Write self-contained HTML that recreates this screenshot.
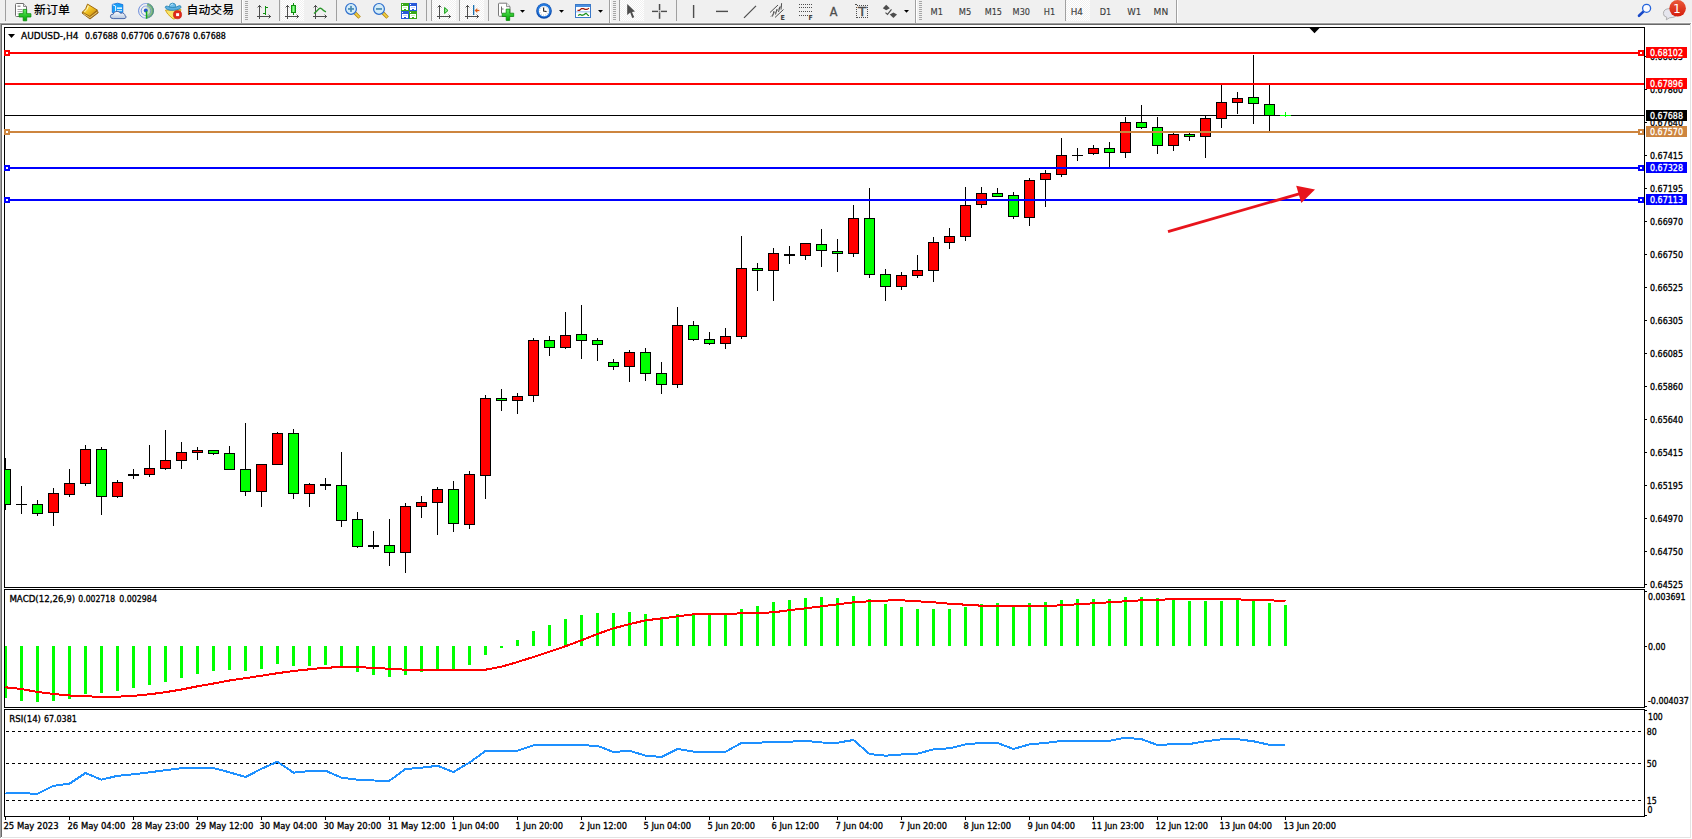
<!DOCTYPE html>
<html lang="zh-CN"><head><meta charset="utf-8"><title>AUDUSD-,H4</title>
<style>html,body{margin:0;padding:0;background:#fff;overflow:hidden}body{width:1692px;height:839px}svg text{white-space:pre}</style></head>
<body>
<svg width="1692" height="839" viewBox="0 0 1692 839" font-family="'DejaVu Sans Condensed','Liberation Sans',sans-serif" style="display:block">
<defs>
<pattern id="chk" width="2" height="2" patternUnits="userSpaceOnUse"><rect width="2" height="2" fill="#ffffff"/><rect width="1" height="1" fill="#f0f0f0"/><rect x="1" y="1" width="1" height="1" fill="#f0f0f0"/></pattern>
<clipPath id="mainclip"><rect x="5" y="28" width="1639" height="559"/></clipPath>
<linearGradient id="gplus" x1="0" y1="0" x2="0" y2="1"><stop offset="0" stop-color="#60f060"/><stop offset="1" stop-color="#00a000"/></linearGradient>
<linearGradient id="gbook" x1="0" y1="0" x2="1" y2="1"><stop offset="0" stop-color="#fff080"/><stop offset="0.5" stop-color="#f0c020"/><stop offset="1" stop-color="#c08010"/></linearGradient>
<linearGradient id="gcloud" x1="0" y1="0" x2="0" y2="1"><stop offset="0" stop-color="#ffffff"/><stop offset="1" stop-color="#b8c8e0"/></linearGradient>
<linearGradient id="gbadge" x1="0" y1="0" x2="0" y2="1"><stop offset="0" stop-color="#ea5a3a"/><stop offset="1" stop-color="#d41c0c"/></linearGradient>
<radialGradient id="gclock" cx="0.5" cy="0.4" r="0.6"><stop offset="0.55" stop-color="#ffffff"/><stop offset="0.7" stop-color="#2a8ae8"/><stop offset="1" stop-color="#0848a8"/></radialGradient>
<linearGradient id="gcandle" x1="0" y1="0" x2="1" y2="0"><stop offset="0" stop-color="#30d030"/><stop offset="0.5" stop-color="#90ff90"/><stop offset="1" stop-color="#20c020"/></linearGradient>
</defs>
<rect x="0" y="0" width="1692" height="839" fill="#ffffff" />
<g shape-rendering="crispEdges">
<rect x="0" y="0" width="1692" height="22" fill="#f0f0f0" />
<rect x="0" y="22" width="1691" height="1" fill="#f7f7f7" />
<rect x="0" y="23" width="1691" height="1" fill="#a0a0a0" />
<rect x="1" y="24" width="1690" height="1" fill="#696969" />
<rect x="0" y="23" width="1" height="815" fill="#a0a0a0" />
<rect x="1" y="24" width="1" height="813" fill="#696969" />
<rect x="1690" y="24" width="1" height="814" fill="#e3e3e3" />
<rect x="2" y="837" width="1689" height="1" fill="#e3e3e3" />
<rect x="1691" y="22" width="1" height="817" fill="#ffffff" />
<rect x="4" y="27" width="1641" height="1" fill="#000" />
<rect x="4" y="587" width="1641" height="1" fill="#000" />
<rect x="4" y="27" width="1" height="561" fill="#000" />
<rect x="1644" y="27" width="1" height="561" fill="#000" />
<rect x="4" y="589" width="1641" height="1" fill="#000" />
<rect x="4" y="707" width="1641" height="1" fill="#000" />
<rect x="4" y="589" width="1" height="119" fill="#000" />
<rect x="1644" y="589" width="1" height="119" fill="#000" />
<rect x="4" y="709" width="1641" height="1" fill="#000" />
<rect x="4" y="816" width="1641" height="1" fill="#000" />
<rect x="4" y="709" width="1" height="108" fill="#000" />
<rect x="1644" y="709" width="1" height="108" fill="#000" />
</g>
<rect x="5" y="115" width="1639" height="1" fill="#000" shape-rendering="crispEdges"/>
<g shape-rendering="crispEdges" clip-path="url(#mainclip)">
<rect x="5" y="458" width="1" height="52" fill="#000" />
<rect x="0" y="469" width="11" height="36" fill="#000" />
<rect x="1" y="470" width="9" height="34" fill="#00ff00" />
<rect x="21" y="486" width="1" height="28" fill="#000" />
<rect x="16" y="504" width="11" height="1" fill="#000" />
<rect x="37" y="500" width="1" height="16" fill="#000" />
<rect x="32" y="504" width="11" height="10" fill="#000" />
<rect x="33" y="505" width="9" height="8" fill="#00ff00" />
<rect x="53" y="488" width="1" height="38" fill="#000" />
<rect x="48" y="493" width="11" height="20" fill="#000" />
<rect x="49" y="494" width="9" height="18" fill="#ff0000" />
<rect x="69" y="469" width="1" height="28" fill="#000" />
<rect x="64" y="483" width="11" height="12" fill="#000" />
<rect x="65" y="484" width="9" height="10" fill="#ff0000" />
<rect x="85" y="445" width="1" height="41" fill="#000" />
<rect x="80" y="449" width="11" height="35" fill="#000" />
<rect x="81" y="450" width="9" height="33" fill="#ff0000" />
<rect x="101" y="447" width="1" height="68" fill="#000" />
<rect x="96" y="449" width="11" height="48" fill="#000" />
<rect x="97" y="450" width="9" height="46" fill="#00ff00" />
<rect x="117" y="480" width="1" height="18" fill="#000" />
<rect x="112" y="482" width="11" height="15" fill="#000" />
<rect x="113" y="483" width="9" height="13" fill="#ff0000" />
<rect x="133" y="469" width="1" height="10" fill="#000" />
<rect x="128" y="474" width="11" height="2" fill="#000" />
<rect x="149" y="445" width="1" height="32" fill="#000" />
<rect x="144" y="468" width="11" height="7" fill="#000" />
<rect x="145" y="469" width="9" height="5" fill="#ff0000" />
<rect x="165" y="430" width="1" height="40" fill="#000" />
<rect x="160" y="460" width="11" height="9" fill="#000" />
<rect x="161" y="461" width="9" height="7" fill="#ff0000" />
<rect x="181" y="442" width="1" height="27" fill="#000" />
<rect x="176" y="452" width="11" height="9" fill="#000" />
<rect x="177" y="453" width="9" height="7" fill="#ff0000" />
<rect x="197" y="447" width="1" height="13" fill="#000" />
<rect x="192" y="450" width="11" height="3" fill="#000" />
<rect x="193" y="451" width="9" height="1" fill="#ff0000" />
<rect x="213" y="450" width="1" height="5" fill="#000" />
<rect x="208" y="450" width="11" height="4" fill="#000" />
<rect x="209" y="451" width="9" height="2" fill="#00ff00" />
<rect x="229" y="446" width="1" height="24" fill="#000" />
<rect x="224" y="453" width="11" height="17" fill="#000" />
<rect x="225" y="454" width="9" height="15" fill="#00ff00" />
<rect x="245" y="423" width="1" height="73" fill="#000" />
<rect x="240" y="469" width="11" height="23" fill="#000" />
<rect x="241" y="470" width="9" height="21" fill="#00ff00" />
<rect x="261" y="464" width="1" height="43" fill="#000" />
<rect x="256" y="464" width="11" height="28" fill="#000" />
<rect x="257" y="465" width="9" height="26" fill="#ff0000" />
<rect x="277" y="432" width="1" height="33" fill="#000" />
<rect x="272" y="433" width="11" height="32" fill="#000" />
<rect x="273" y="434" width="9" height="30" fill="#ff0000" />
<rect x="293" y="429" width="1" height="70" fill="#000" />
<rect x="288" y="433" width="11" height="61" fill="#000" />
<rect x="289" y="434" width="9" height="59" fill="#00ff00" />
<rect x="309" y="483" width="1" height="24" fill="#000" />
<rect x="304" y="484" width="11" height="10" fill="#000" />
<rect x="305" y="485" width="9" height="8" fill="#ff0000" />
<rect x="325" y="478" width="1" height="12" fill="#000" />
<rect x="320" y="484" width="11" height="2" fill="#000" />
<rect x="341" y="452" width="1" height="75" fill="#000" />
<rect x="336" y="485" width="11" height="36" fill="#000" />
<rect x="337" y="486" width="9" height="34" fill="#00ff00" />
<rect x="357" y="512" width="1" height="36" fill="#000" />
<rect x="352" y="519" width="11" height="28" fill="#000" />
<rect x="353" y="520" width="9" height="26" fill="#00ff00" />
<rect x="373" y="531" width="1" height="18" fill="#000" />
<rect x="368" y="545" width="11" height="2" fill="#000" />
<rect x="389" y="519" width="1" height="47" fill="#000" />
<rect x="384" y="545" width="11" height="8" fill="#000" />
<rect x="385" y="546" width="9" height="6" fill="#00ff00" />
<rect x="405" y="503" width="1" height="70" fill="#000" />
<rect x="400" y="506" width="11" height="47" fill="#000" />
<rect x="401" y="507" width="9" height="45" fill="#ff0000" />
<rect x="421" y="496" width="1" height="22" fill="#000" />
<rect x="416" y="502" width="11" height="5" fill="#000" />
<rect x="417" y="503" width="9" height="3" fill="#ff0000" />
<rect x="437" y="487" width="1" height="48" fill="#000" />
<rect x="432" y="489" width="11" height="14" fill="#000" />
<rect x="433" y="490" width="9" height="12" fill="#ff0000" />
<rect x="453" y="481" width="1" height="51" fill="#000" />
<rect x="448" y="489" width="11" height="35" fill="#000" />
<rect x="449" y="490" width="9" height="33" fill="#00ff00" />
<rect x="469" y="471" width="1" height="58" fill="#000" />
<rect x="464" y="474" width="11" height="51" fill="#000" />
<rect x="465" y="475" width="9" height="49" fill="#ff0000" />
<rect x="485" y="395" width="1" height="104" fill="#000" />
<rect x="480" y="398" width="11" height="78" fill="#000" />
<rect x="481" y="399" width="9" height="76" fill="#ff0000" />
<rect x="501" y="389" width="1" height="22" fill="#000" />
<rect x="496" y="398" width="11" height="3" fill="#000" />
<rect x="497" y="399" width="9" height="1" fill="#00ff00" />
<rect x="517" y="393" width="1" height="21" fill="#000" />
<rect x="512" y="396" width="11" height="5" fill="#000" />
<rect x="513" y="397" width="9" height="3" fill="#ff0000" />
<rect x="533" y="338" width="1" height="64" fill="#000" />
<rect x="528" y="340" width="11" height="56" fill="#000" />
<rect x="529" y="341" width="9" height="54" fill="#ff0000" />
<rect x="549" y="336" width="1" height="20" fill="#000" />
<rect x="544" y="340" width="11" height="8" fill="#000" />
<rect x="545" y="341" width="9" height="6" fill="#00ff00" />
<rect x="565" y="312" width="1" height="37" fill="#000" />
<rect x="560" y="335" width="11" height="13" fill="#000" />
<rect x="561" y="336" width="9" height="11" fill="#ff0000" />
<rect x="581" y="305" width="1" height="54" fill="#000" />
<rect x="576" y="334" width="11" height="7" fill="#000" />
<rect x="577" y="335" width="9" height="5" fill="#00ff00" />
<rect x="597" y="338" width="1" height="23" fill="#000" />
<rect x="592" y="340" width="11" height="5" fill="#000" />
<rect x="593" y="341" width="9" height="3" fill="#00ff00" />
<rect x="613" y="359" width="1" height="11" fill="#000" />
<rect x="608" y="362" width="11" height="5" fill="#000" />
<rect x="609" y="363" width="9" height="3" fill="#00ff00" />
<rect x="629" y="350" width="1" height="32" fill="#000" />
<rect x="624" y="352" width="11" height="15" fill="#000" />
<rect x="625" y="353" width="9" height="13" fill="#ff0000" />
<rect x="645" y="348" width="1" height="33" fill="#000" />
<rect x="640" y="352" width="11" height="22" fill="#000" />
<rect x="641" y="353" width="9" height="20" fill="#00ff00" />
<rect x="661" y="362" width="1" height="32" fill="#000" />
<rect x="656" y="373" width="11" height="12" fill="#000" />
<rect x="657" y="374" width="9" height="10" fill="#00ff00" />
<rect x="677" y="307" width="1" height="81" fill="#000" />
<rect x="672" y="325" width="11" height="60" fill="#000" />
<rect x="673" y="326" width="9" height="58" fill="#ff0000" />
<rect x="693" y="321" width="1" height="20" fill="#000" />
<rect x="688" y="325" width="11" height="15" fill="#000" />
<rect x="689" y="326" width="9" height="13" fill="#00ff00" />
<rect x="709" y="332" width="1" height="13" fill="#000" />
<rect x="704" y="339" width="11" height="5" fill="#000" />
<rect x="705" y="340" width="9" height="3" fill="#00ff00" />
<rect x="725" y="328" width="1" height="21" fill="#000" />
<rect x="720" y="336" width="11" height="8" fill="#000" />
<rect x="721" y="337" width="9" height="6" fill="#ff0000" />
<rect x="741" y="236" width="1" height="103" fill="#000" />
<rect x="736" y="268" width="11" height="69" fill="#000" />
<rect x="737" y="269" width="9" height="67" fill="#ff0000" />
<rect x="757" y="263" width="1" height="28" fill="#000" />
<rect x="752" y="268" width="11" height="3" fill="#000" />
<rect x="753" y="269" width="9" height="1" fill="#00ff00" />
<rect x="773" y="248" width="1" height="53" fill="#000" />
<rect x="768" y="253" width="11" height="18" fill="#000" />
<rect x="769" y="254" width="9" height="16" fill="#ff0000" />
<rect x="789" y="246" width="1" height="18" fill="#000" />
<rect x="784" y="254" width="11" height="2" fill="#000" />
<rect x="805" y="243" width="1" height="17" fill="#000" />
<rect x="800" y="243" width="11" height="13" fill="#000" />
<rect x="801" y="244" width="9" height="11" fill="#ff0000" />
<rect x="821" y="229" width="1" height="38" fill="#000" />
<rect x="816" y="244" width="11" height="7" fill="#000" />
<rect x="817" y="245" width="9" height="5" fill="#00ff00" />
<rect x="837" y="239" width="1" height="33" fill="#000" />
<rect x="832" y="251" width="11" height="3" fill="#000" />
<rect x="833" y="252" width="9" height="1" fill="#00ff00" />
<rect x="853" y="205" width="1" height="52" fill="#000" />
<rect x="848" y="218" width="11" height="36" fill="#000" />
<rect x="849" y="219" width="9" height="34" fill="#ff0000" />
<rect x="869" y="188" width="1" height="90" fill="#000" />
<rect x="864" y="218" width="11" height="57" fill="#000" />
<rect x="865" y="219" width="9" height="55" fill="#00ff00" />
<rect x="885" y="269" width="1" height="32" fill="#000" />
<rect x="880" y="274" width="11" height="13" fill="#000" />
<rect x="881" y="275" width="9" height="11" fill="#00ff00" />
<rect x="901" y="272" width="1" height="18" fill="#000" />
<rect x="896" y="275" width="11" height="12" fill="#000" />
<rect x="897" y="276" width="9" height="10" fill="#ff0000" />
<rect x="917" y="255" width="1" height="23" fill="#000" />
<rect x="912" y="270" width="11" height="6" fill="#000" />
<rect x="913" y="271" width="9" height="4" fill="#ff0000" />
<rect x="933" y="237" width="1" height="45" fill="#000" />
<rect x="928" y="242" width="11" height="29" fill="#000" />
<rect x="929" y="243" width="9" height="27" fill="#ff0000" />
<rect x="949" y="228" width="1" height="21" fill="#000" />
<rect x="944" y="236" width="11" height="7" fill="#000" />
<rect x="945" y="237" width="9" height="5" fill="#ff0000" />
<rect x="965" y="187" width="1" height="54" fill="#000" />
<rect x="960" y="205" width="11" height="32" fill="#000" />
<rect x="961" y="206" width="9" height="30" fill="#ff0000" />
<rect x="981" y="187" width="1" height="21" fill="#000" />
<rect x="976" y="193" width="11" height="12" fill="#000" />
<rect x="977" y="194" width="9" height="10" fill="#ff0000" />
<rect x="997" y="188" width="1" height="9" fill="#000" />
<rect x="992" y="193" width="11" height="4" fill="#000" />
<rect x="993" y="194" width="9" height="2" fill="#00ff00" />
<rect x="1013" y="192" width="1" height="27" fill="#000" />
<rect x="1008" y="195" width="11" height="22" fill="#000" />
<rect x="1009" y="196" width="9" height="20" fill="#00ff00" />
<rect x="1029" y="178" width="1" height="48" fill="#000" />
<rect x="1024" y="180" width="11" height="38" fill="#000" />
<rect x="1025" y="181" width="9" height="36" fill="#ff0000" />
<rect x="1045" y="170" width="1" height="37" fill="#000" />
<rect x="1040" y="173" width="11" height="7" fill="#000" />
<rect x="1041" y="174" width="9" height="5" fill="#ff0000" />
<rect x="1061" y="138" width="1" height="39" fill="#000" />
<rect x="1056" y="155" width="11" height="20" fill="#000" />
<rect x="1057" y="156" width="9" height="18" fill="#ff0000" />
<rect x="1077" y="148" width="1" height="13" fill="#000" />
<rect x="1072" y="155" width="11" height="1" fill="#000" />
<rect x="1093" y="145" width="1" height="10" fill="#000" />
<rect x="1088" y="148" width="11" height="6" fill="#000" />
<rect x="1089" y="149" width="9" height="4" fill="#ff0000" />
<rect x="1109" y="142" width="1" height="25" fill="#000" />
<rect x="1104" y="148" width="11" height="5" fill="#000" />
<rect x="1105" y="149" width="9" height="3" fill="#00ff00" />
<rect x="1125" y="117" width="1" height="41" fill="#000" />
<rect x="1120" y="122" width="11" height="31" fill="#000" />
<rect x="1121" y="123" width="9" height="29" fill="#ff0000" />
<rect x="1141" y="105" width="1" height="24" fill="#000" />
<rect x="1136" y="122" width="11" height="6" fill="#000" />
<rect x="1137" y="123" width="9" height="4" fill="#00ff00" />
<rect x="1157" y="117" width="1" height="37" fill="#000" />
<rect x="1152" y="127" width="11" height="19" fill="#000" />
<rect x="1153" y="128" width="9" height="17" fill="#00ff00" />
<rect x="1173" y="133" width="1" height="18" fill="#000" />
<rect x="1168" y="134" width="11" height="12" fill="#000" />
<rect x="1169" y="135" width="9" height="10" fill="#ff0000" />
<rect x="1189" y="133" width="1" height="8" fill="#000" />
<rect x="1184" y="134" width="11" height="3" fill="#000" />
<rect x="1185" y="135" width="9" height="1" fill="#00ff00" />
<rect x="1205" y="116" width="1" height="42" fill="#000" />
<rect x="1200" y="118" width="11" height="19" fill="#000" />
<rect x="1201" y="119" width="9" height="17" fill="#ff0000" />
<rect x="1221" y="85" width="1" height="43" fill="#000" />
<rect x="1216" y="102" width="11" height="17" fill="#000" />
<rect x="1217" y="103" width="9" height="15" fill="#ff0000" />
<rect x="1237" y="92" width="1" height="22" fill="#000" />
<rect x="1232" y="98" width="11" height="5" fill="#000" />
<rect x="1233" y="99" width="9" height="3" fill="#ff0000" />
<rect x="1253" y="55" width="1" height="69" fill="#000" />
<rect x="1248" y="97" width="11" height="7" fill="#000" />
<rect x="1249" y="98" width="9" height="5" fill="#00ff00" />
<rect x="1269" y="85" width="1" height="46" fill="#000" />
<rect x="1264" y="104" width="11" height="12" fill="#000" />
<rect x="1265" y="105" width="9" height="10" fill="#00ff00" />
</g>
<g shape-rendering="crispEdges">
<rect x="1280" y="115" width="11" height="1" fill="#00ff00" />
<rect x="1285" y="112" width="1" height="5" fill="#00ff00" />
<rect x="5" y="52" width="1639" height="2" fill="#ff0000" />
<rect x="4" y="50" width="6" height="6" fill="#ff0000" />
<rect x="6" y="52" width="2" height="2" fill="#fff" />
<rect x="1638" y="50" width="6" height="6" fill="#ff0000" />
<rect x="1640" y="52" width="2" height="2" fill="#fff" />
<rect x="5" y="83" width="1639" height="2" fill="#ff0000" />
<rect x="5" y="131" width="1639" height="2" fill="#cd853f" />
<rect x="4" y="129" width="6" height="6" fill="#cd853f" />
<rect x="6" y="131" width="2" height="2" fill="#fff" />
<rect x="1638" y="129" width="6" height="6" fill="#cd853f" />
<rect x="1640" y="131" width="2" height="2" fill="#fff" />
<rect x="5" y="167" width="1639" height="2" fill="#0000ff" />
<rect x="4" y="165" width="6" height="6" fill="#0000ff" />
<rect x="6" y="167" width="2" height="2" fill="#fff" />
<rect x="1638" y="165" width="6" height="6" fill="#0000ff" />
<rect x="1640" y="167" width="2" height="2" fill="#fff" />
<rect x="5" y="199" width="1639" height="2" fill="#0000ff" />
<rect x="4" y="197" width="6" height="6" fill="#0000ff" />
<rect x="6" y="199" width="2" height="2" fill="#fff" />
<rect x="1638" y="197" width="6" height="6" fill="#0000ff" />
<rect x="1640" y="199" width="2" height="2" fill="#fff" />
</g>
<polygon points="1309.5,28 1319.5,28 1314.5,33.2" fill="#000"/>
<polygon points="8,34 15,34 11.5,38" fill="#000"/>
<line x1="1168" y1="231.6" x2="1300" y2="193.6" stroke="#e8141c" stroke-width="2.8"/>
<polygon points="1315,189.5 1296.2,185.8 1301.3,203" fill="#e8141c"/>
<g shape-rendering="crispEdges">
<rect x="5" y="646" width="2" height="52" fill="#00ff00" />
<rect x="20" y="646" width="3" height="55" fill="#00ff00" />
<rect x="36" y="646" width="3" height="56" fill="#00ff00" />
<rect x="52" y="646" width="3" height="55" fill="#00ff00" />
<rect x="68" y="646" width="3" height="53" fill="#00ff00" />
<rect x="84" y="646" width="3" height="48" fill="#00ff00" />
<rect x="100" y="646" width="3" height="47" fill="#00ff00" />
<rect x="116" y="646" width="3" height="45" fill="#00ff00" />
<rect x="132" y="646" width="3" height="42" fill="#00ff00" />
<rect x="148" y="646" width="3" height="39" fill="#00ff00" />
<rect x="164" y="646" width="3" height="36" fill="#00ff00" />
<rect x="180" y="646" width="3" height="32" fill="#00ff00" />
<rect x="196" y="646" width="3" height="28" fill="#00ff00" />
<rect x="212" y="646" width="3" height="25" fill="#00ff00" />
<rect x="228" y="646" width="3" height="24" fill="#00ff00" />
<rect x="244" y="646" width="3" height="25" fill="#00ff00" />
<rect x="260" y="646" width="3" height="23" fill="#00ff00" />
<rect x="276" y="646" width="3" height="18" fill="#00ff00" />
<rect x="292" y="646" width="3" height="20" fill="#00ff00" />
<rect x="308" y="646" width="3" height="20" fill="#00ff00" />
<rect x="324" y="646" width="3" height="19" fill="#00ff00" />
<rect x="340" y="646" width="3" height="21" fill="#00ff00" />
<rect x="356" y="646" width="3" height="26" fill="#00ff00" />
<rect x="372" y="646" width="3" height="29" fill="#00ff00" />
<rect x="388" y="646" width="3" height="31" fill="#00ff00" />
<rect x="404" y="646" width="3" height="29" fill="#00ff00" />
<rect x="420" y="646" width="3" height="26" fill="#00ff00" />
<rect x="436" y="646" width="3" height="24" fill="#00ff00" />
<rect x="452" y="646" width="3" height="23" fill="#00ff00" />
<rect x="468" y="646" width="3" height="19" fill="#00ff00" />
<rect x="484" y="646" width="3" height="9" fill="#00ff00" />
<rect x="500" y="646" width="3" height="2" fill="#00ff00" />
<rect x="516" y="640" width="3" height="6" fill="#00ff00" />
<rect x="532" y="631" width="3" height="15" fill="#00ff00" />
<rect x="548" y="625" width="3" height="21" fill="#00ff00" />
<rect x="564" y="619" width="3" height="27" fill="#00ff00" />
<rect x="580" y="615" width="3" height="31" fill="#00ff00" />
<rect x="596" y="613" width="3" height="33" fill="#00ff00" />
<rect x="612" y="613" width="3" height="33" fill="#00ff00" />
<rect x="628" y="612" width="3" height="34" fill="#00ff00" />
<rect x="644" y="614" width="3" height="32" fill="#00ff00" />
<rect x="660" y="617" width="3" height="29" fill="#00ff00" />
<rect x="676" y="614" width="3" height="32" fill="#00ff00" />
<rect x="692" y="614" width="3" height="32" fill="#00ff00" />
<rect x="708" y="614" width="3" height="32" fill="#00ff00" />
<rect x="724" y="614" width="3" height="32" fill="#00ff00" />
<rect x="740" y="609" width="3" height="37" fill="#00ff00" />
<rect x="756" y="606" width="3" height="40" fill="#00ff00" />
<rect x="772" y="602" width="3" height="44" fill="#00ff00" />
<rect x="788" y="600" width="3" height="46" fill="#00ff00" />
<rect x="804" y="598" width="3" height="48" fill="#00ff00" />
<rect x="820" y="597" width="3" height="49" fill="#00ff00" />
<rect x="836" y="598" width="3" height="48" fill="#00ff00" />
<rect x="852" y="596" width="3" height="50" fill="#00ff00" />
<rect x="868" y="599" width="3" height="47" fill="#00ff00" />
<rect x="884" y="604" width="3" height="42" fill="#00ff00" />
<rect x="900" y="607" width="3" height="39" fill="#00ff00" />
<rect x="916" y="609" width="3" height="37" fill="#00ff00" />
<rect x="932" y="609" width="3" height="37" fill="#00ff00" />
<rect x="948" y="609" width="3" height="37" fill="#00ff00" />
<rect x="964" y="607" width="3" height="39" fill="#00ff00" />
<rect x="980" y="604" width="3" height="42" fill="#00ff00" />
<rect x="996" y="603" width="3" height="43" fill="#00ff00" />
<rect x="1012" y="606" width="3" height="40" fill="#00ff00" />
<rect x="1028" y="603" width="3" height="43" fill="#00ff00" />
<rect x="1044" y="602" width="3" height="44" fill="#00ff00" />
<rect x="1060" y="600" width="3" height="46" fill="#00ff00" />
<rect x="1076" y="599" width="3" height="47" fill="#00ff00" />
<rect x="1092" y="599" width="3" height="47" fill="#00ff00" />
<rect x="1108" y="599" width="3" height="47" fill="#00ff00" />
<rect x="1124" y="597" width="3" height="49" fill="#00ff00" />
<rect x="1140" y="597" width="3" height="49" fill="#00ff00" />
<rect x="1156" y="598" width="3" height="48" fill="#00ff00" />
<rect x="1172" y="599" width="3" height="47" fill="#00ff00" />
<rect x="1188" y="601" width="3" height="45" fill="#00ff00" />
<rect x="1204" y="601" width="3" height="45" fill="#00ff00" />
<rect x="1220" y="601" width="3" height="45" fill="#00ff00" />
<rect x="1236" y="600" width="3" height="46" fill="#00ff00" />
<rect x="1252" y="600" width="3" height="46" fill="#00ff00" />
<rect x="1268" y="603" width="3" height="43" fill="#00ff00" />
<rect x="1284" y="605" width="3" height="41" fill="#00ff00" />
</g>
<polyline points="5.5,687.3 21.5,689 37.5,692 53.5,694 69.5,695.5 85.5,696.3 101.5,696.8 117.5,696.7 133.5,695.8 149.5,694.3 165.5,692.2 181.5,689.5 197.5,686.3 213.5,683.5 229.5,680.5 245.5,678.2 261.5,675.7 277.5,673.2 293.5,671 309.5,669.3 325.5,667.7 341.5,667.2 357.5,667.2 373.5,667.8 389.5,668.8 405.5,669.7 421.5,669.7 437.5,669.7 453.5,669.7 469.5,669.7 485.5,669.7 501.5,666.7 517.5,662 533.5,657 549.5,651.7 565.5,646.2 581.5,640.3 597.5,634 613.5,628.3 629.5,624.2 645.5,620.3 661.5,618.5 677.5,616.3 693.5,614.3 709.5,614 725.5,614 741.5,613.3 757.5,613 773.5,612.3 789.5,610.2 805.5,608.3 821.5,606.3 837.5,604.3 853.5,602.3 869.5,601.3 885.5,600.7 893.5,600 901.5,600.3 917.5,601.3 933.5,602.3 949.5,603.7 965.5,604.7 981.5,605.7 997.5,606 1013.5,606 1029.5,606 1045.5,606 1061.5,605.3 1077.5,604.3 1093.5,603.3 1109.5,602.3 1125.5,601.3 1141.5,600.3 1157.5,599.7 1173.5,599.3 1189.5,599.3 1205.5,599.3 1221.5,599.3 1237.5,599.3 1253.5,600.2 1269.5,600.3 1285.5,601" fill="none" stroke="#ff0000" stroke-width="2" stroke-linejoin="round" shape-rendering="crispEdges"/>
<g shape-rendering="crispEdges">
<line x1="6" y1="731.5" x2="1643" y2="731.5" stroke="#000" stroke-width="1" stroke-dasharray="3 3"/>
<line x1="6" y1="763.5" x2="1643" y2="763.5" stroke="#000" stroke-width="1" stroke-dasharray="3 3"/>
<line x1="6" y1="800.5" x2="1643" y2="800.5" stroke="#000" stroke-width="1" stroke-dasharray="3 3"/>
</g>
<polyline points="5.5,793 21.5,793.3 37.5,793.7 53.5,785.8 69.5,783.7 85.5,773 101.5,779.7 117.5,775.8 133.5,774.3 149.5,772.3 165.5,770.2 181.5,768.2 197.5,767.8 213.5,768 229.5,772.3 245.5,777 261.5,768.8 277.5,761.7 293.5,772.7 309.5,771 325.5,770.7 341.5,777.7 357.5,779.7 373.5,780.5 389.5,780.7 405.5,769 421.5,767.7 437.5,765.8 453.5,772 469.5,762.5 485.5,751 501.5,751 517.5,750.7 533.5,745.3 549.5,745 565.5,745 581.5,745.2 597.5,745.9 613.5,752 629.5,750.8 645.5,755.6 661.5,757 677.5,749 693.5,751.6 709.5,751.8 725.5,751.8 741.5,742.9 757.5,742.7 773.5,742 789.5,741.7 805.5,740.8 821.5,742.5 837.5,742.7 853.5,740 869.5,754 885.5,755.7 901.5,754.5 917.5,753.7 933.5,749.3 949.5,748.3 965.5,744.3 981.5,743 997.5,743 1013.5,749 1029.5,744.3 1045.5,743 1061.5,741 1077.5,740.8 1093.5,740.8 1109.5,740.8 1125.5,737.7 1141.5,739.2 1157.5,745 1173.5,744.2 1189.5,744 1205.5,741.3 1221.5,739.3 1237.5,739.2 1253.5,741.3 1269.5,744.8 1285.5,745" fill="none" stroke="#1e90ff" stroke-width="2" stroke-linejoin="round" shape-rendering="crispEdges"/>
<g shape-rendering="crispEdges">
<rect x="1645" y="56" width="2" height="1" fill="#000" />
<rect x="1645" y="89" width="2" height="1" fill="#000" />
<rect x="1645" y="122" width="2" height="1" fill="#000" />
<rect x="1645" y="155" width="2" height="1" fill="#000" />
<rect x="1645" y="188" width="2" height="1" fill="#000" />
<rect x="1645" y="221" width="2" height="1" fill="#000" />
<rect x="1645" y="254" width="2" height="1" fill="#000" />
<rect x="1645" y="287" width="2" height="1" fill="#000" />
<rect x="1645" y="320" width="2" height="1" fill="#000" />
<rect x="1645" y="353" width="2" height="1" fill="#000" />
<rect x="1645" y="386" width="2" height="1" fill="#000" />
<rect x="1645" y="419" width="2" height="1" fill="#000" />
<rect x="1645" y="452" width="2" height="1" fill="#000" />
<rect x="1645" y="485" width="2" height="1" fill="#000" />
<rect x="1645" y="518" width="2" height="1" fill="#000" />
<rect x="1645" y="551" width="2" height="1" fill="#000" />
<rect x="1645" y="584" width="2" height="1" fill="#000" />
<rect x="1645" y="591" width="2" height="1" fill="#000" />
<rect x="1645" y="646" width="2" height="1" fill="#000" />
<rect x="1645" y="706" width="2" height="1" fill="#000" />
<rect x="1645" y="710" width="2" height="1" fill="#000" />
<rect x="1645" y="815" width="2" height="1" fill="#000" />
</g>
<text x="1650" y="60" font-size="9.3" fill="#000" stroke="#000" stroke-width="0.3" textLength="33" lengthAdjust="spacingAndGlyphs" >0.68085</text>
<text x="1650" y="93" font-size="9.3" fill="#000" stroke="#000" stroke-width="0.3" textLength="33" lengthAdjust="spacingAndGlyphs" >0.67860</text>
<text x="1650" y="126" font-size="9.3" fill="#000" stroke="#000" stroke-width="0.3" textLength="33" lengthAdjust="spacingAndGlyphs" >0.67640</text>
<text x="1650" y="159" font-size="9.3" fill="#000" stroke="#000" stroke-width="0.3" textLength="33" lengthAdjust="spacingAndGlyphs" >0.67415</text>
<text x="1650" y="192" font-size="9.3" fill="#000" stroke="#000" stroke-width="0.3" textLength="33" lengthAdjust="spacingAndGlyphs" >0.67195</text>
<text x="1650" y="225" font-size="9.3" fill="#000" stroke="#000" stroke-width="0.3" textLength="33" lengthAdjust="spacingAndGlyphs" >0.66970</text>
<text x="1650" y="258" font-size="9.3" fill="#000" stroke="#000" stroke-width="0.3" textLength="33" lengthAdjust="spacingAndGlyphs" >0.66750</text>
<text x="1650" y="291" font-size="9.3" fill="#000" stroke="#000" stroke-width="0.3" textLength="33" lengthAdjust="spacingAndGlyphs" >0.66525</text>
<text x="1650" y="324" font-size="9.3" fill="#000" stroke="#000" stroke-width="0.3" textLength="33" lengthAdjust="spacingAndGlyphs" >0.66305</text>
<text x="1650" y="357" font-size="9.3" fill="#000" stroke="#000" stroke-width="0.3" textLength="33" lengthAdjust="spacingAndGlyphs" >0.66085</text>
<text x="1650" y="390" font-size="9.3" fill="#000" stroke="#000" stroke-width="0.3" textLength="33" lengthAdjust="spacingAndGlyphs" >0.65860</text>
<text x="1650" y="423" font-size="9.3" fill="#000" stroke="#000" stroke-width="0.3" textLength="33" lengthAdjust="spacingAndGlyphs" >0.65640</text>
<text x="1650" y="456" font-size="9.3" fill="#000" stroke="#000" stroke-width="0.3" textLength="33" lengthAdjust="spacingAndGlyphs" >0.65415</text>
<text x="1650" y="489" font-size="9.3" fill="#000" stroke="#000" stroke-width="0.3" textLength="33" lengthAdjust="spacingAndGlyphs" >0.65195</text>
<text x="1650" y="522" font-size="9.3" fill="#000" stroke="#000" stroke-width="0.3" textLength="33" lengthAdjust="spacingAndGlyphs" >0.64970</text>
<text x="1650" y="555" font-size="9.3" fill="#000" stroke="#000" stroke-width="0.3" textLength="33" lengthAdjust="spacingAndGlyphs" >0.64750</text>
<text x="1650" y="588" font-size="9.3" fill="#000" stroke="#000" stroke-width="0.3" textLength="33" lengthAdjust="spacingAndGlyphs" >0.64525</text>
<text x="1648" y="600" font-size="9.3" fill="#000" stroke="#000" stroke-width="0.3" textLength="37.5" lengthAdjust="spacingAndGlyphs" >0.003691</text>
<text x="1648" y="650" font-size="9.3" fill="#000" stroke="#000" stroke-width="0.3" textLength="17.6" lengthAdjust="spacingAndGlyphs" >0.00</text>
<text x="1648" y="704" font-size="9.3" fill="#000" stroke="#000" stroke-width="0.3" textLength="40.8" lengthAdjust="spacingAndGlyphs" >-0.004037</text>
<text x="1648" y="720" font-size="9.3" fill="#000" stroke="#000" stroke-width="0.3" textLength="14.8" lengthAdjust="spacingAndGlyphs" >100</text>
<text x="1646.8" y="735" font-size="9.3" fill="#000" stroke="#000" stroke-width="0.3" textLength="10" lengthAdjust="spacingAndGlyphs" >80</text>
<text x="1646.8" y="767" font-size="9.3" fill="#000" stroke="#000" stroke-width="0.3" textLength="10" lengthAdjust="spacingAndGlyphs" >50</text>
<text x="1646.8" y="804" font-size="9.3" fill="#000" stroke="#000" stroke-width="0.3" textLength="10" lengthAdjust="spacingAndGlyphs" >15</text>
<text x="1647.5" y="813" font-size="9.3" fill="#000" stroke="#000" stroke-width="0.3" textLength="5" lengthAdjust="spacingAndGlyphs" >0</text>
<rect x="1646" y="47.0" width="41" height="11" fill="#ff0000" shape-rendering="crispEdges"/>
<text x="1650" y="56.0" font-size="9.3" fill="#fff" stroke="#fff" stroke-width="0.3" textLength="33" lengthAdjust="spacingAndGlyphs" >0.68102</text>
<rect x="1646" y="78.0" width="41" height="11" fill="#ff0000" shape-rendering="crispEdges"/>
<text x="1650" y="87.0" font-size="9.3" fill="#fff" stroke="#fff" stroke-width="0.3" textLength="33" lengthAdjust="spacingAndGlyphs" >0.67896</text>
<rect x="1646" y="110" width="41" height="11" fill="#000" shape-rendering="crispEdges"/>
<text x="1650" y="119" font-size="9.3" fill="#fff" stroke="#fff" stroke-width="0.3" textLength="33" lengthAdjust="spacingAndGlyphs" >0.67688</text>
<rect x="1646" y="126.0" width="41" height="11" fill="#cd853f" shape-rendering="crispEdges"/>
<text x="1650" y="135.0" font-size="9.3" fill="#fff" stroke="#fff" stroke-width="0.3" textLength="33" lengthAdjust="spacingAndGlyphs" >0.67570</text>
<rect x="1646" y="162.0" width="41" height="11" fill="#0000ff" shape-rendering="crispEdges"/>
<text x="1650" y="171.0" font-size="9.3" fill="#fff" stroke="#fff" stroke-width="0.3" textLength="33" lengthAdjust="spacingAndGlyphs" >0.67328</text>
<rect x="1646" y="194.0" width="41" height="11" fill="#0000ff" shape-rendering="crispEdges"/>
<text x="1650" y="203.0" font-size="9.3" fill="#fff" stroke="#fff" stroke-width="0.3" textLength="33" lengthAdjust="spacingAndGlyphs" >0.67113</text>
<text x="21" y="39" font-size="9.3" fill="#000" stroke="#000" stroke-width="0.3" textLength="57.4" lengthAdjust="spacingAndGlyphs" >AUDUSD-,H4</text>
<text x="85" y="39" font-size="9.3" fill="#000" stroke="#000" stroke-width="0.3" textLength="32.8" lengthAdjust="spacingAndGlyphs" >0.67688</text>
<text x="121" y="39" font-size="9.3" fill="#000" stroke="#000" stroke-width="0.3" textLength="32.8" lengthAdjust="spacingAndGlyphs" >0.67706</text>
<text x="157" y="39" font-size="9.3" fill="#000" stroke="#000" stroke-width="0.3" textLength="32.8" lengthAdjust="spacingAndGlyphs" >0.67678</text>
<text x="193" y="39" font-size="9.3" fill="#000" stroke="#000" stroke-width="0.3" textLength="32.8" lengthAdjust="spacingAndGlyphs" >0.67688</text>
<text x="9.4" y="602" font-size="9.3" fill="#000" stroke="#000" stroke-width="0.3" textLength="65.8" lengthAdjust="spacingAndGlyphs" >MACD(12,26,9)</text>
<text x="78.3" y="602" font-size="9.3" fill="#000" stroke="#000" stroke-width="0.3" textLength="36.8" lengthAdjust="spacingAndGlyphs" >0.002718</text>
<text x="119.3" y="602" font-size="9.3" fill="#000" stroke="#000" stroke-width="0.3" textLength="37.6" lengthAdjust="spacingAndGlyphs" >0.002984</text>
<text x="9.3" y="722" font-size="9.3" fill="#000" stroke="#000" stroke-width="0.3" textLength="31.7" lengthAdjust="spacingAndGlyphs" >RSI(14)</text>
<text x="43.9" y="722" font-size="9.3" fill="#000" stroke="#000" stroke-width="0.3" textLength="32.9" lengthAdjust="spacingAndGlyphs" >67.0381</text>
<g shape-rendering="crispEdges">
<rect x="5" y="817" width="1" height="3" fill="#000" />
<rect x="69" y="817" width="1" height="3" fill="#000" />
<rect x="133" y="817" width="1" height="3" fill="#000" />
<rect x="197" y="817" width="1" height="3" fill="#000" />
<rect x="261" y="817" width="1" height="3" fill="#000" />
<rect x="325" y="817" width="1" height="3" fill="#000" />
<rect x="389" y="817" width="1" height="3" fill="#000" />
<rect x="453" y="817" width="1" height="3" fill="#000" />
<rect x="517" y="817" width="1" height="3" fill="#000" />
<rect x="581" y="817" width="1" height="3" fill="#000" />
<rect x="645" y="817" width="1" height="3" fill="#000" />
<rect x="709" y="817" width="1" height="3" fill="#000" />
<rect x="773" y="817" width="1" height="3" fill="#000" />
<rect x="837" y="817" width="1" height="3" fill="#000" />
<rect x="901" y="817" width="1" height="3" fill="#000" />
<rect x="965" y="817" width="1" height="3" fill="#000" />
<rect x="1029" y="817" width="1" height="3" fill="#000" />
<rect x="1093" y="817" width="1" height="3" fill="#000" />
<rect x="1157" y="817" width="1" height="3" fill="#000" />
<rect x="1221" y="817" width="1" height="3" fill="#000" />
<rect x="1285" y="817" width="1" height="3" fill="#000" />
</g>
<text x="3.5" y="829" font-size="9.3" fill="#000" stroke="#000" stroke-width="0.3" textLength="55" lengthAdjust="spacingAndGlyphs" >25 May 2023</text>
<text x="67.5" y="829" font-size="9.3" fill="#000" stroke="#000" stroke-width="0.3" textLength="57.8" lengthAdjust="spacingAndGlyphs" >26 May 04:00</text>
<text x="131.5" y="829" font-size="9.3" fill="#000" stroke="#000" stroke-width="0.3" textLength="57.8" lengthAdjust="spacingAndGlyphs" >28 May 23:00</text>
<text x="195.5" y="829" font-size="9.3" fill="#000" stroke="#000" stroke-width="0.3" textLength="57.8" lengthAdjust="spacingAndGlyphs" >29 May 12:00</text>
<text x="259.5" y="829" font-size="9.3" fill="#000" stroke="#000" stroke-width="0.3" textLength="57.8" lengthAdjust="spacingAndGlyphs" >30 May 04:00</text>
<text x="323.5" y="829" font-size="9.3" fill="#000" stroke="#000" stroke-width="0.3" textLength="57.8" lengthAdjust="spacingAndGlyphs" >30 May 20:00</text>
<text x="387.5" y="829" font-size="9.3" fill="#000" stroke="#000" stroke-width="0.3" textLength="57.8" lengthAdjust="spacingAndGlyphs" >31 May 12:00</text>
<text x="451.5" y="829" font-size="9.3" fill="#000" stroke="#000" stroke-width="0.3" textLength="47.5" lengthAdjust="spacingAndGlyphs" >1 Jun 04:00</text>
<text x="515.5" y="829" font-size="9.3" fill="#000" stroke="#000" stroke-width="0.3" textLength="47.5" lengthAdjust="spacingAndGlyphs" >1 Jun 20:00</text>
<text x="579.5" y="829" font-size="9.3" fill="#000" stroke="#000" stroke-width="0.3" textLength="47.5" lengthAdjust="spacingAndGlyphs" >2 Jun 12:00</text>
<text x="643.5" y="829" font-size="9.3" fill="#000" stroke="#000" stroke-width="0.3" textLength="47.5" lengthAdjust="spacingAndGlyphs" >5 Jun 04:00</text>
<text x="707.5" y="829" font-size="9.3" fill="#000" stroke="#000" stroke-width="0.3" textLength="47.5" lengthAdjust="spacingAndGlyphs" >5 Jun 20:00</text>
<text x="771.5" y="829" font-size="9.3" fill="#000" stroke="#000" stroke-width="0.3" textLength="47.5" lengthAdjust="spacingAndGlyphs" >6 Jun 12:00</text>
<text x="835.5" y="829" font-size="9.3" fill="#000" stroke="#000" stroke-width="0.3" textLength="47.5" lengthAdjust="spacingAndGlyphs" >7 Jun 04:00</text>
<text x="899.5" y="829" font-size="9.3" fill="#000" stroke="#000" stroke-width="0.3" textLength="47.5" lengthAdjust="spacingAndGlyphs" >7 Jun 20:00</text>
<text x="963.5" y="829" font-size="9.3" fill="#000" stroke="#000" stroke-width="0.3" textLength="47.5" lengthAdjust="spacingAndGlyphs" >8 Jun 12:00</text>
<text x="1027.5" y="829" font-size="9.3" fill="#000" stroke="#000" stroke-width="0.3" textLength="47.5" lengthAdjust="spacingAndGlyphs" >9 Jun 04:00</text>
<text x="1091.5" y="829" font-size="9.3" fill="#000" stroke="#000" stroke-width="0.3" textLength="52.5" lengthAdjust="spacingAndGlyphs" >11 Jun 23:00</text>
<text x="1155.5" y="829" font-size="9.3" fill="#000" stroke="#000" stroke-width="0.3" textLength="52.5" lengthAdjust="spacingAndGlyphs" >12 Jun 12:00</text>
<text x="1219.5" y="829" font-size="9.3" fill="#000" stroke="#000" stroke-width="0.3" textLength="52.5" lengthAdjust="spacingAndGlyphs" >13 Jun 04:00</text>
<text x="1283.5" y="829" font-size="9.3" fill="#000" stroke="#000" stroke-width="0.3" textLength="52.5" lengthAdjust="spacingAndGlyphs" >13 Jun 20:00</text>
<rect x="5" y="0" width="1" height="21" fill="#a0a0a0" shape-rendering="crispEdges"/>
<g>
<path d="M15.5,4.5 Q15.5,3.5 16.5,3.5 L23.5,3.5 L26.5,6.5 L26.5,15.5 Q26.5,16.5 25.5,16.5 L16.5,16.5 Q15.5,16.5 15.5,15.5 Z" fill="#ffffff" stroke="#6e6e6e" stroke-width="1"/>
<path d="M23.5,3.5 L23.5,6.5 L26.5,6.5" fill="#e8e8e8" stroke="#6e6e6e" stroke-width="0.8"/>
<rect x="17.5" y="5.5" width="3" height="1.5" fill="#9a9a9a"/>
<rect x="17.5" y="9" width="5" height="0.9" fill="#9a9a9a"/>
<rect x="17.5" y="11.2" width="5" height="0.9" fill="#9a9a9a"/>
<rect x="17.5" y="13.4" width="5" height="0.9" fill="#9a9a9a"/>
<path d="M23.2,9.4 h3.5 v4.3 h4.2 v3.3 h-4.2 v3.8 h-3.5 v-3.8 h-4.1 v-3.3 h4.1 z" fill="url(#gplus)" stroke="#0a8a0a" stroke-width="0.8"/>
</g>
<text x="34" y="14" font-size="11.6" font-weight="500" fill="#000" font-family="'Liberation Sans','Noto Sans CJK SC','WenQuanYi Zen Hei',sans-serif" textLength="36" lengthAdjust="spacingAndGlyphs">新订单</text>
<g>
<path d="M82,13 L90,19 L98.2,12.8 L97.2,10.2 L89.6,16.2 L83,11.8 Z" fill="#b07818" stroke="#8a5a10" stroke-width="0.9" stroke-linejoin="round"/>
<path d="M87.5,4.1 L97.2,10 L89.8,16.4 L82.4,12.2 Q86.4,9.2 87.5,4.1 Z" fill="url(#gbook)" stroke="#a06a10" stroke-width="1" stroke-linejoin="round"/>
<path d="M83.4,13.6 L89.9,17.6 L97.4,12" fill="none" stroke="#f4dc80" stroke-width="0.8"/>
<path d="M88.4,5.8 Q87.6,9.6 84.4,12" fill="none" stroke="#fff8c8" stroke-width="1"/>
</g>
<g>
<path d="M112.3,4.4 L117.6,3.2 L122.8,4.6 L122.8,12.5 L112.3,12.5 Z" fill="#18a0f8" stroke="#0a68d8" stroke-width="0.8"/>
<path d="M112.6,4.8 L115.6,6 L115.6,12.4" fill="none" stroke="#e8f6ff" stroke-width="1"/>
<rect x="117" y="7.4" width="5" height="1.5" fill="#f0faff"/>
<rect x="117" y="10" width="5" height="1.2" fill="#b8e0ff"/>
<path d="M113.2,18.6 Q110.2,18.6 110.4,16.2 Q110.6,14 113.2,14.2 Q113.6,11.4 117,11.3 Q119.6,11.3 120.6,13.4 Q122.4,12.2 124,13.6 Q125,14.4 124.8,15.4 Q126.2,15.8 126,17.2 Q125.8,18.6 124,18.6 Z" fill="url(#gcloud)" stroke="#4a68a8" stroke-width="1"/>
</g>
<defs><radialGradient id="gsig" gradientUnits="userSpaceOnUse" cx="146" cy="10.8" r="8"><stop offset="0" stop-color="#eef6e8"/><stop offset="0.55" stop-color="#b4d8ac"/><stop offset="1" stop-color="#3c9444"/></radialGradient><linearGradient id="gring" gradientUnits="userSpaceOnUse" x1="138" y1="0" x2="154" y2="0"><stop offset="0" stop-color="#3a66d4"/><stop offset="0.5" stop-color="#86a4e4"/><stop offset="1" stop-color="#4a80a0"/></linearGradient></defs>
<g fill="none">
<path d="M146,10.8 L147.35,3.1 A7.8,7.8 0 0 1 146,18.6 Z" fill="url(#gsig)"/>
<circle cx="146" cy="10.8" r="7.4" stroke="url(#gring)" stroke-width="1" opacity="0.8"/>
<circle cx="146" cy="10.8" r="4.8" stroke="url(#gring)" stroke-width="1" opacity="0.8"/>
<circle cx="145.8" cy="10.6" r="2" fill="#2858cc"/>
<rect x="145.8" y="11.2" width="1.5" height="7.5" fill="#18a818"/>
</g>
<g>
<path d="M165.4,10.2 L181,9.6 Q180.6,12.4 178,15.2 L174.8,18.8 Q173.6,19.4 172.4,18.4 Q166.6,13.8 165.4,10.2 Z" fill="#fae468" stroke="#d0a010" stroke-width="0.9"/>
<path d="M165.2,7.2 Q165.6,5.6 167.4,6.2 Q169.6,7.4 173,7.4 Q176.6,7.4 179,5.8 Q181,5.2 181,7.2 Q180.6,9.6 173.2,10.3 Q166,10.4 165.2,7.2 Z" fill="#5cb0e2" stroke="#2a86b4" stroke-width="0.9"/>
<path d="M169.3,7 Q169.4,3.1 172.6,3.1 Q175.8,3.1 176,6.8 Q172.6,8.2 169.3,7 Z" fill="#6cbcea" stroke="#2a86b4" stroke-width="0.8"/>
<path d="M170.6,5.6 Q171.2,4.2 172.8,4.1" fill="none" stroke="#c8ecfc" stroke-width="1"/>
<circle cx="177.5" cy="14.7" r="4.1" fill="#e0281a" stroke="#c01808" stroke-width="0.6"/>
<rect x="176.1" y="13.2" width="3" height="2.9" fill="#ffffff"/>
</g>
<text x="186.6" y="14" font-size="11.6" font-weight="500" fill="#000" font-family="'Liberation Sans','Noto Sans CJK SC','WenQuanYi Zen Hei',sans-serif" textLength="47.4" lengthAdjust="spacingAndGlyphs">自动交易</text>
<rect x="241" y="0" width="1" height="23" fill="#a0a0a0" shape-rendering="crispEdges"/>
<rect x="242" y="0" width="1" height="22" fill="#ffffff" shape-rendering="crispEdges"/>
<g shape-rendering="crispEdges">
<rect x="245" y="1" width="3" height="1" fill="#a6a6a6" />
<rect x="245" y="3" width="3" height="1" fill="#a6a6a6" />
<rect x="245" y="5" width="3" height="1" fill="#a6a6a6" />
<rect x="245" y="7" width="3" height="1" fill="#a6a6a6" />
<rect x="245" y="9" width="3" height="1" fill="#a6a6a6" />
<rect x="245" y="11" width="3" height="1" fill="#a6a6a6" />
<rect x="245" y="13" width="3" height="1" fill="#a6a6a6" />
<rect x="245" y="15" width="3" height="1" fill="#a6a6a6" />
<rect x="245" y="17" width="3" height="1" fill="#a6a6a6" />
<rect x="245" y="19" width="3" height="1" fill="#a6a6a6" />
</g>
<g shape-rendering="crispEdges" fill="#4d4d4d">
<rect x="259" y="5" width="1" height="14" fill="#4d4d4d" />
<rect x="257" y="16" width="14" height="1" fill="#4d4d4d" />
<rect x="258" y="6" width="3" height="1" fill="#4d4d4d" />
<rect x="257" y="7" width="1" height="1" fill="#b4b4b4" />
<rect x="261" y="7" width="1" height="1" fill="#b4b4b4" />
<rect x="269" y="15" width="1" height="3" fill="#4d4d4d" />
<rect x="268" y="14" width="1" height="1" fill="#b4b4b4" />
<rect x="268" y="18" width="1" height="1" fill="#b4b4b4" />
</g>
<g shape-rendering="crispEdges">
<rect x="265" y="6" width="1" height="9" fill="#109010" />
<rect x="266" y="7" width="2" height="1" fill="#109010" />
<rect x="263" y="13" width="2" height="1" fill="#109010" />
</g>
<rect x="279" y="0" width="1" height="21" fill="#a0a0a0" shape-rendering="crispEdges"/>
<rect x="281" y="0" width="23" height="21" fill="url(#chk)" shape-rendering="crispEdges"/>
<g shape-rendering="crispEdges" fill="#4d4d4d">
<rect x="287" y="5" width="1" height="14" fill="#4d4d4d" />
<rect x="285" y="16" width="14" height="1" fill="#4d4d4d" />
<rect x="286" y="6" width="3" height="1" fill="#4d4d4d" />
<rect x="285" y="7" width="1" height="1" fill="#b4b4b4" />
<rect x="289" y="7" width="1" height="1" fill="#b4b4b4" />
<rect x="297" y="15" width="1" height="3" fill="#4d4d4d" />
<rect x="296" y="14" width="1" height="1" fill="#b4b4b4" />
<rect x="296" y="18" width="1" height="1" fill="#b4b4b4" />
</g>
<rect x="293" y="3" width="1" height="12" fill="#109010" shape-rendering="crispEdges"/>
<rect x="291.5" y="5.5" width="4" height="7" fill="url(#gcandle)" stroke="#109010" stroke-width="1"/>
<g shape-rendering="crispEdges" fill="#4d4d4d">
<rect x="315" y="5" width="1" height="14" fill="#4d4d4d" />
<rect x="313" y="16" width="14" height="1" fill="#4d4d4d" />
<rect x="314" y="6" width="3" height="1" fill="#4d4d4d" />
<rect x="313" y="7" width="1" height="1" fill="#b4b4b4" />
<rect x="317" y="7" width="1" height="1" fill="#b4b4b4" />
<rect x="325" y="15" width="1" height="3" fill="#4d4d4d" />
<rect x="324" y="14" width="1" height="1" fill="#b4b4b4" />
<rect x="324" y="18" width="1" height="1" fill="#b4b4b4" />
</g>
<path d="M314,13.6 Q317,11 319,8.8 Q320.3,7.6 321.6,8.8 Q323.6,11 326,11.8" fill="none" stroke="#2a962a" stroke-width="1.3"/>
<rect x="336" y="0" width="1" height="21" fill="#a0a0a0" shape-rendering="crispEdges"/>
<line x1="355" y1="13" x2="359.6" y2="17.6" stroke="#b08010" stroke-width="3.4" stroke-linecap="butt"/>
<line x1="355.2" y1="13.2" x2="359.4" y2="17.4" stroke="#f0d040" stroke-width="1.8" stroke-linecap="butt"/>
<circle cx="351" cy="8.9" r="5.4" fill="#d4ecf8" stroke="#2a6ccc" stroke-width="1.2"/>
<rect x="348" y="8.1" width="6" height="1.7" fill="#4a8cb4"/>
<rect x="350.15" y="5.9" width="1.7" height="6" fill="#4a8cb4"/>
<line x1="383" y1="13" x2="387.6" y2="17.6" stroke="#b08010" stroke-width="3.4" stroke-linecap="butt"/>
<line x1="383.2" y1="13.2" x2="387.4" y2="17.4" stroke="#f0d040" stroke-width="1.8" stroke-linecap="butt"/>
<circle cx="379" cy="8.9" r="5.4" fill="#d4ecf8" stroke="#2a6ccc" stroke-width="1.2"/>
<rect x="376" y="8.1" width="6" height="1.7" fill="#4a8cb4"/>
<g shape-rendering="crispEdges">
<rect x="401" y="3" width="8" height="8" fill="#3aa818" />
<rect x="402" y="6" width="6" height="4" fill="#ffffff" />
<rect x="403" y="7" width="4" height="1" fill="#c8f0b0" />
<rect x="402" y="4" width="1" height="1" fill="#ffffff" />
<rect x="404" y="9" width="2" height="1" fill="#3aa818" />
<rect x="409" y="3" width="8" height="8" fill="#2858d8" />
<rect x="410" y="6" width="6" height="4" fill="#ffffff" />
<rect x="411" y="7" width="4" height="1" fill="#c0d0ff" />
<rect x="410" y="4" width="1" height="1" fill="#ffffff" />
<rect x="412" y="9" width="2" height="1" fill="#2858d8" />
<rect x="401" y="11" width="8" height="8" fill="#2858d8" />
<rect x="402" y="14" width="6" height="4" fill="#ffffff" />
<rect x="403" y="15" width="4" height="1" fill="#c0d0ff" />
<rect x="402" y="12" width="1" height="1" fill="#ffffff" />
<rect x="404" y="17" width="2" height="1" fill="#2858d8" />
<rect x="409" y="11" width="8" height="8" fill="#3aa818" />
<rect x="410" y="14" width="6" height="4" fill="#ffffff" />
<rect x="411" y="15" width="4" height="1" fill="#c8f0b0" />
<rect x="410" y="12" width="1" height="1" fill="#ffffff" />
<rect x="412" y="17" width="2" height="1" fill="#3aa818" />
</g>
<rect x="426" y="0" width="1" height="21" fill="#a0a0a0" shape-rendering="crispEdges"/>
<rect x="431" y="0" width="1" height="21" fill="#a0a0a0" shape-rendering="crispEdges"/>
<rect x="432" y="0" width="24" height="21" fill="url(#chk)" shape-rendering="crispEdges"/>
<g shape-rendering="crispEdges" fill="#4d4d4d">
<rect x="439" y="5" width="1" height="14" fill="#4d4d4d" />
<rect x="437" y="16" width="14" height="1" fill="#4d4d4d" />
<rect x="438" y="6" width="3" height="1" fill="#4d4d4d" />
<rect x="437" y="7" width="1" height="1" fill="#b4b4b4" />
<rect x="441" y="7" width="1" height="1" fill="#b4b4b4" />
<rect x="449" y="15" width="1" height="3" fill="#4d4d4d" />
<rect x="448" y="14" width="1" height="1" fill="#b4b4b4" />
<rect x="448" y="18" width="1" height="1" fill="#b4b4b4" />
</g>
<polygon points="444.6,7.5 448,10.5 444.6,13.5" fill="#90e890" stroke="#18a018" stroke-width="1" stroke-linejoin="round"/>
<rect x="459" y="0" width="1" height="21" fill="#a0a0a0" shape-rendering="crispEdges"/>
<rect x="460" y="0" width="24" height="21" fill="url(#chk)" shape-rendering="crispEdges"/>
<g shape-rendering="crispEdges" fill="#4d4d4d">
<rect x="467" y="5" width="1" height="14" fill="#4d4d4d" />
<rect x="465" y="16" width="14" height="1" fill="#4d4d4d" />
<rect x="466" y="6" width="3" height="1" fill="#4d4d4d" />
<rect x="465" y="7" width="1" height="1" fill="#b4b4b4" />
<rect x="469" y="7" width="1" height="1" fill="#b4b4b4" />
<rect x="477" y="15" width="1" height="3" fill="#4d4d4d" />
<rect x="476" y="14" width="1" height="1" fill="#b4b4b4" />
<rect x="476" y="18" width="1" height="1" fill="#b4b4b4" />
</g>
<rect x="473" y="5" width="1.3" height="10" fill="#1a70b0"/>
<path d="M474.8,10.5 L477.2,8.4 L477,10 L479.2,10 L479.2,11 L477,11 L477.2,12.6 Z" fill="#e85a10" stroke="#d05008" stroke-width="0.3"/>
<rect x="488" y="0" width="1" height="21" fill="#a0a0a0" shape-rendering="crispEdges"/>
<path d="M498.5,4 Q498.5,3.2 499.4,3.2 L506.5,3.2 L510,6.6 L510,15.4 Q510,16.3 509.1,16.3 L499.4,16.3 Q498.5,16.3 498.5,15.4 Z" fill="#ffffff" stroke="#7a7a7a" stroke-width="1"/>
<path d="M506.5,3.2 L506.5,6.6 L510,6.6" fill="#e8e8e8" stroke="#7a7a7a" stroke-width="0.8"/>
<path d="M501.5,6.5 L501.5,13.5 M501.5,9 L503.5,9" fill="none" stroke="#6a6a6a" stroke-width="1"/>
<path d="M506.2,9.1 h3.5 v4.1 h4 v3.3 h-4 v3.9 h-3.5 v-3.9 h-4 v-3.3 h4 z" fill="url(#gplus)" stroke="#0a8a0a" stroke-width="0.8"/>
<polygon points="520,10 525,10 522.5,12.8" fill="#000"/>
<circle cx="544" cy="11" r="7.8" fill="#0c4cae"/>
<circle cx="544" cy="10.4" r="6.9" fill="#2478dc"/>
<circle cx="544" cy="11" r="5.2" fill="#ffffff"/>
<circle cx="544" cy="11" r="4.2" fill="none" stroke="#b0b0b0" stroke-width="1" stroke-dasharray="0.8 1.4"/>
<path d="M543.6,7.5 L543.6,11 L546.6,11.6" fill="none" stroke="#303030" stroke-width="1.2"/>
<polygon points="559,10 564,10 561.5,12.8" fill="#000"/>
<rect x="575.5" y="4.5" width="15" height="13" fill="#ffffff" stroke="#3a78c8" stroke-width="1"/>
<rect x="576" y="5" width="14" height="2" fill="#4a90e0"/>
<rect x="576" y="11.4" width="14" height="0.9" fill="#8ab4e8"/>
<path d="M577.5,10.3 L579.5,10.3 L581.5,8.6 L583.5,8.6 L585,9.4 L587,9.4 L589,8.2" fill="none" stroke="#a01808" stroke-width="1.2"/>
<path d="M578,15.6 L580,14.4 L582,15.4 L584,14.6 L586,13.2 L588,15.2 L589,15.6" fill="none" stroke="#18901a" stroke-width="1.2"/>
<polygon points="598,10 603,10 600.5,12.8" fill="#000"/>
<rect x="609" y="0" width="1" height="23" fill="#a0a0a0" shape-rendering="crispEdges"/>
<rect x="610" y="0" width="1" height="22" fill="#ffffff" shape-rendering="crispEdges"/>
<g shape-rendering="crispEdges">
<rect x="613" y="1" width="3" height="1" fill="#a6a6a6" />
<rect x="613" y="3" width="3" height="1" fill="#a6a6a6" />
<rect x="613" y="5" width="3" height="1" fill="#a6a6a6" />
<rect x="613" y="7" width="3" height="1" fill="#a6a6a6" />
<rect x="613" y="9" width="3" height="1" fill="#a6a6a6" />
<rect x="613" y="11" width="3" height="1" fill="#a6a6a6" />
<rect x="613" y="13" width="3" height="1" fill="#a6a6a6" />
<rect x="613" y="15" width="3" height="1" fill="#a6a6a6" />
<rect x="613" y="17" width="3" height="1" fill="#a6a6a6" />
<rect x="613" y="19" width="3" height="1" fill="#a6a6a6" />
</g>
<rect x="619" y="0" width="1" height="21" fill="#a0a0a0" shape-rendering="crispEdges"/>
<rect x="620" y="0" width="24" height="21" fill="url(#chk)" shape-rendering="crispEdges"/>
<polygon points="627.2,4 627.2,14.9 630.2,12.6 632.2,18 634.2,17.2 632,12 635,11.6" fill="#4d4d4d"/>
<g fill="#4d4d4d"><rect x="658.8" y="4" width="1.5" height="6.3"/><rect x="658.8" y="12.4" width="1.5" height="6.4"/><rect x="652" y="10.7" width="6.2" height="1.4"/><rect x="660.8" y="10.7" width="6.2" height="1.4"/><rect x="659.2" y="11" width="0.8" height="0.8"/></g>
<rect x="676" y="0" width="1" height="21" fill="#a0a0a0" shape-rendering="crispEdges"/>
<rect x="692.9" y="5" width="1.4" height="13" fill="#4d4d4d"/>
<rect x="716" y="10.7" width="12" height="1.4" fill="#4d4d4d"/>
<line x1="744" y1="17.8" x2="756" y2="5.8" stroke="#4d4d4d" stroke-width="1.2"/>
<g stroke="#4d4d4d" stroke-width="1" fill="none"><line x1="770" y1="12.5" x2="778" y2="5"/><line x1="775" y1="17.5" x2="783.5" y2="9.5"/><line x1="771" y1="16.5" x2="782" y2="5.5" stroke-dasharray="1.5 1"/><path d="M772.5,16.5 L774,11 M775.5,14.5 L777,9 M778.5,12 L780,6.5 M781,9.6 L781.6,3.2"/></g>
<text x="780.6" y="19.7" font-size="7" font-weight="bold" fill="#404040" textLength="4.4" lengthAdjust="spacingAndGlyphs">E</text>
<g shape-rendering="crispEdges">
<rect x="799" y="4" width="1" height="1" fill="#4d4d4d" />
<rect x="801" y="4" width="1" height="1" fill="#4d4d4d" />
<rect x="803" y="4" width="1" height="1" fill="#4d4d4d" />
<rect x="805" y="4" width="1" height="1" fill="#4d4d4d" />
<rect x="807" y="4" width="1" height="1" fill="#4d4d4d" />
<rect x="809" y="4" width="1" height="1" fill="#4d4d4d" />
<rect x="811" y="4" width="1" height="1" fill="#4d4d4d" />
<rect x="799" y="7" width="1" height="1" fill="#4d4d4d" />
<rect x="801" y="7" width="1" height="1" fill="#4d4d4d" />
<rect x="803" y="7" width="1" height="1" fill="#4d4d4d" />
<rect x="805" y="7" width="1" height="1" fill="#4d4d4d" />
<rect x="807" y="7" width="1" height="1" fill="#4d4d4d" />
<rect x="809" y="7" width="1" height="1" fill="#4d4d4d" />
<rect x="811" y="7" width="1" height="1" fill="#4d4d4d" />
<rect x="799" y="11" width="1" height="1" fill="#4d4d4d" />
<rect x="801" y="11" width="1" height="1" fill="#4d4d4d" />
<rect x="803" y="11" width="1" height="1" fill="#4d4d4d" />
<rect x="805" y="11" width="1" height="1" fill="#4d4d4d" />
<rect x="807" y="11" width="1" height="1" fill="#4d4d4d" />
<rect x="809" y="11" width="1" height="1" fill="#4d4d4d" />
<rect x="811" y="11" width="1" height="1" fill="#4d4d4d" />
<rect x="799" y="15" width="1" height="1" fill="#4d4d4d" />
<rect x="801" y="15" width="1" height="1" fill="#4d4d4d" />
<rect x="803" y="15" width="1" height="1" fill="#4d4d4d" />
<rect x="805" y="15" width="1" height="1" fill="#4d4d4d" />
<rect x="807" y="15" width="1" height="1" fill="#4d4d4d" />
</g>
<text x="808.6" y="19.7" font-size="7" font-weight="bold" fill="#404040" textLength="4.2" lengthAdjust="spacingAndGlyphs">F</text>
<text x="829.7" y="16" font-size="12.4" fill="#4d4d4d" textLength="7.7" lengthAdjust="spacingAndGlyphs" stroke="#4d4d4d" stroke-width="0.3">A</text>
<g shape-rendering="crispEdges">
<rect x="857" y="5" width="1" height="1" fill="#4d4d4d" />
<rect x="857" y="17" width="1" height="1" fill="#4d4d4d" />
<rect x="859" y="5" width="1" height="1" fill="#4d4d4d" />
<rect x="859" y="17" width="1" height="1" fill="#4d4d4d" />
<rect x="861" y="5" width="1" height="1" fill="#4d4d4d" />
<rect x="861" y="17" width="1" height="1" fill="#4d4d4d" />
<rect x="863" y="5" width="1" height="1" fill="#4d4d4d" />
<rect x="863" y="17" width="1" height="1" fill="#4d4d4d" />
<rect x="865" y="5" width="1" height="1" fill="#4d4d4d" />
<rect x="865" y="17" width="1" height="1" fill="#4d4d4d" />
<rect x="867" y="5" width="1" height="1" fill="#4d4d4d" />
<rect x="867" y="17" width="1" height="1" fill="#4d4d4d" />
<rect x="856" y="7" width="1" height="1" fill="#4d4d4d" />
<rect x="867" y="7" width="1" height="1" fill="#4d4d4d" />
<rect x="856" y="9" width="1" height="1" fill="#4d4d4d" />
<rect x="867" y="9" width="1" height="1" fill="#4d4d4d" />
<rect x="856" y="11" width="1" height="1" fill="#4d4d4d" />
<rect x="867" y="11" width="1" height="1" fill="#4d4d4d" />
<rect x="856" y="13" width="1" height="1" fill="#4d4d4d" />
<rect x="867" y="13" width="1" height="1" fill="#4d4d4d" />
<rect x="856" y="15" width="1" height="1" fill="#4d4d4d" />
<rect x="867" y="15" width="1" height="1" fill="#4d4d4d" />
<rect x="856" y="17" width="1" height="1" fill="#4d4d4d" />
<rect x="867" y="17" width="1" height="1" fill="#4d4d4d" />
<rect x="855" y="4" width="2" height="1" fill="#4d4d4d" />
</g>
<text x="858" y="16" font-size="11.5" fill="#4d4d4d" textLength="8.4" lengthAdjust="spacingAndGlyphs" stroke="#4d4d4d" stroke-width="0.3">T</text>
<polygon points="886.2,4.8 889.8,8.2 886.2,10.2 882.8,8.2" fill="#4d4d4d"/>
<polygon points="893.4,18 897,14.4 893.4,12.6 889.8,14.4" fill="#4d4d4d"/>
<path d="M885.5,12.6 L887.5,14.4 L891.5,9.4" fill="none" stroke="#4d4d4d" stroke-width="1.2"/>
<polygon points="904,10 909,10 906.5,12.8" fill="#000"/>
<rect x="915" y="0" width="1" height="23" fill="#a0a0a0" shape-rendering="crispEdges"/>
<rect x="916" y="0" width="1" height="22" fill="#ffffff" shape-rendering="crispEdges"/>
<g shape-rendering="crispEdges">
<rect x="919" y="1" width="3" height="1" fill="#a6a6a6" />
<rect x="919" y="3" width="3" height="1" fill="#a6a6a6" />
<rect x="919" y="5" width="3" height="1" fill="#a6a6a6" />
<rect x="919" y="7" width="3" height="1" fill="#a6a6a6" />
<rect x="919" y="9" width="3" height="1" fill="#a6a6a6" />
<rect x="919" y="11" width="3" height="1" fill="#a6a6a6" />
<rect x="919" y="13" width="3" height="1" fill="#a6a6a6" />
<rect x="919" y="15" width="3" height="1" fill="#a6a6a6" />
<rect x="919" y="17" width="3" height="1" fill="#a6a6a6" />
<rect x="919" y="19" width="3" height="1" fill="#a6a6a6" />
</g>
<text x="930.6" y="15" font-size="9.3" fill="#3c3c3c" stroke="#3c3c3c" stroke-width="0.12" textLength="12.4" lengthAdjust="spacingAndGlyphs" >M1</text>
<text x="958.7" y="15" font-size="9.3" fill="#3c3c3c" stroke="#3c3c3c" stroke-width="0.12" textLength="12.5" lengthAdjust="spacingAndGlyphs" >M5</text>
<text x="984.7" y="15" font-size="9.3" fill="#3c3c3c" stroke="#3c3c3c" stroke-width="0.12" textLength="17.3" lengthAdjust="spacingAndGlyphs" >M15</text>
<text x="1012.6" y="15" font-size="9.3" fill="#3c3c3c" stroke="#3c3c3c" stroke-width="0.12" textLength="17.4" lengthAdjust="spacingAndGlyphs" >M30</text>
<text x="1043.7" y="15" font-size="9.3" fill="#3c3c3c" stroke="#3c3c3c" stroke-width="0.12" textLength="11.5" lengthAdjust="spacingAndGlyphs" >H1</text>
<rect x="1065" y="0" width="1" height="21" fill="#a0a0a0" shape-rendering="crispEdges"/>
<rect x="1066" y="0" width="24" height="21" fill="url(#chk)" shape-rendering="crispEdges"/>
<text x="1070.7" y="15" font-size="9.3" fill="#3c3c3c" stroke="#3c3c3c" stroke-width="0.12" textLength="12.2" lengthAdjust="spacingAndGlyphs" >H4</text>
<text x="1099.7" y="15" font-size="9.3" fill="#3c3c3c" stroke="#3c3c3c" stroke-width="0.12" textLength="11.5" lengthAdjust="spacingAndGlyphs" >D1</text>
<text x="1127.2" y="15" font-size="9.3" fill="#3c3c3c" stroke="#3c3c3c" stroke-width="0.12" textLength="14.0" lengthAdjust="spacingAndGlyphs" >W1</text>
<text x="1153.6" y="15" font-size="9.3" fill="#3c3c3c" stroke="#3c3c3c" stroke-width="0.12" textLength="14.6" lengthAdjust="spacingAndGlyphs" >MN</text>
<rect x="1176" y="0" width="1" height="23" fill="#a0a0a0" shape-rendering="crispEdges"/>
<rect x="1177" y="0" width="1" height="22" fill="#ffffff" shape-rendering="crispEdges"/>
<line x1="1643.6" y1="11.4" x2="1639" y2="15.8" stroke="#1848c8" stroke-width="2.6" stroke-linecap="round"/>
<circle cx="1646.6" cy="8.3" r="4" fill="#fbfbff" stroke="#2464dc" stroke-width="1.3"/>
<path d="M1663.4,13.5 Q1663.4,8.6 1670,8.6 Q1677,8.6 1677,13.4 Q1677,17.6 1669.5,17.8 L1666.3,19.8 L1666.8,17.3 Q1663.4,16.6 1663.4,13.5 Z" fill="#e6e6ee" stroke="#a8a8a8" stroke-width="0.9"/>
<circle cx="1677.6" cy="8.3" r="8.3" fill="url(#gbadge)"/>
<text x="1676.9" y="13" font-size="12.3" fill="#ffffff" text-anchor="middle" font-family="'DejaVu Sans',sans-serif">1</text>
</svg>
</body></html>
